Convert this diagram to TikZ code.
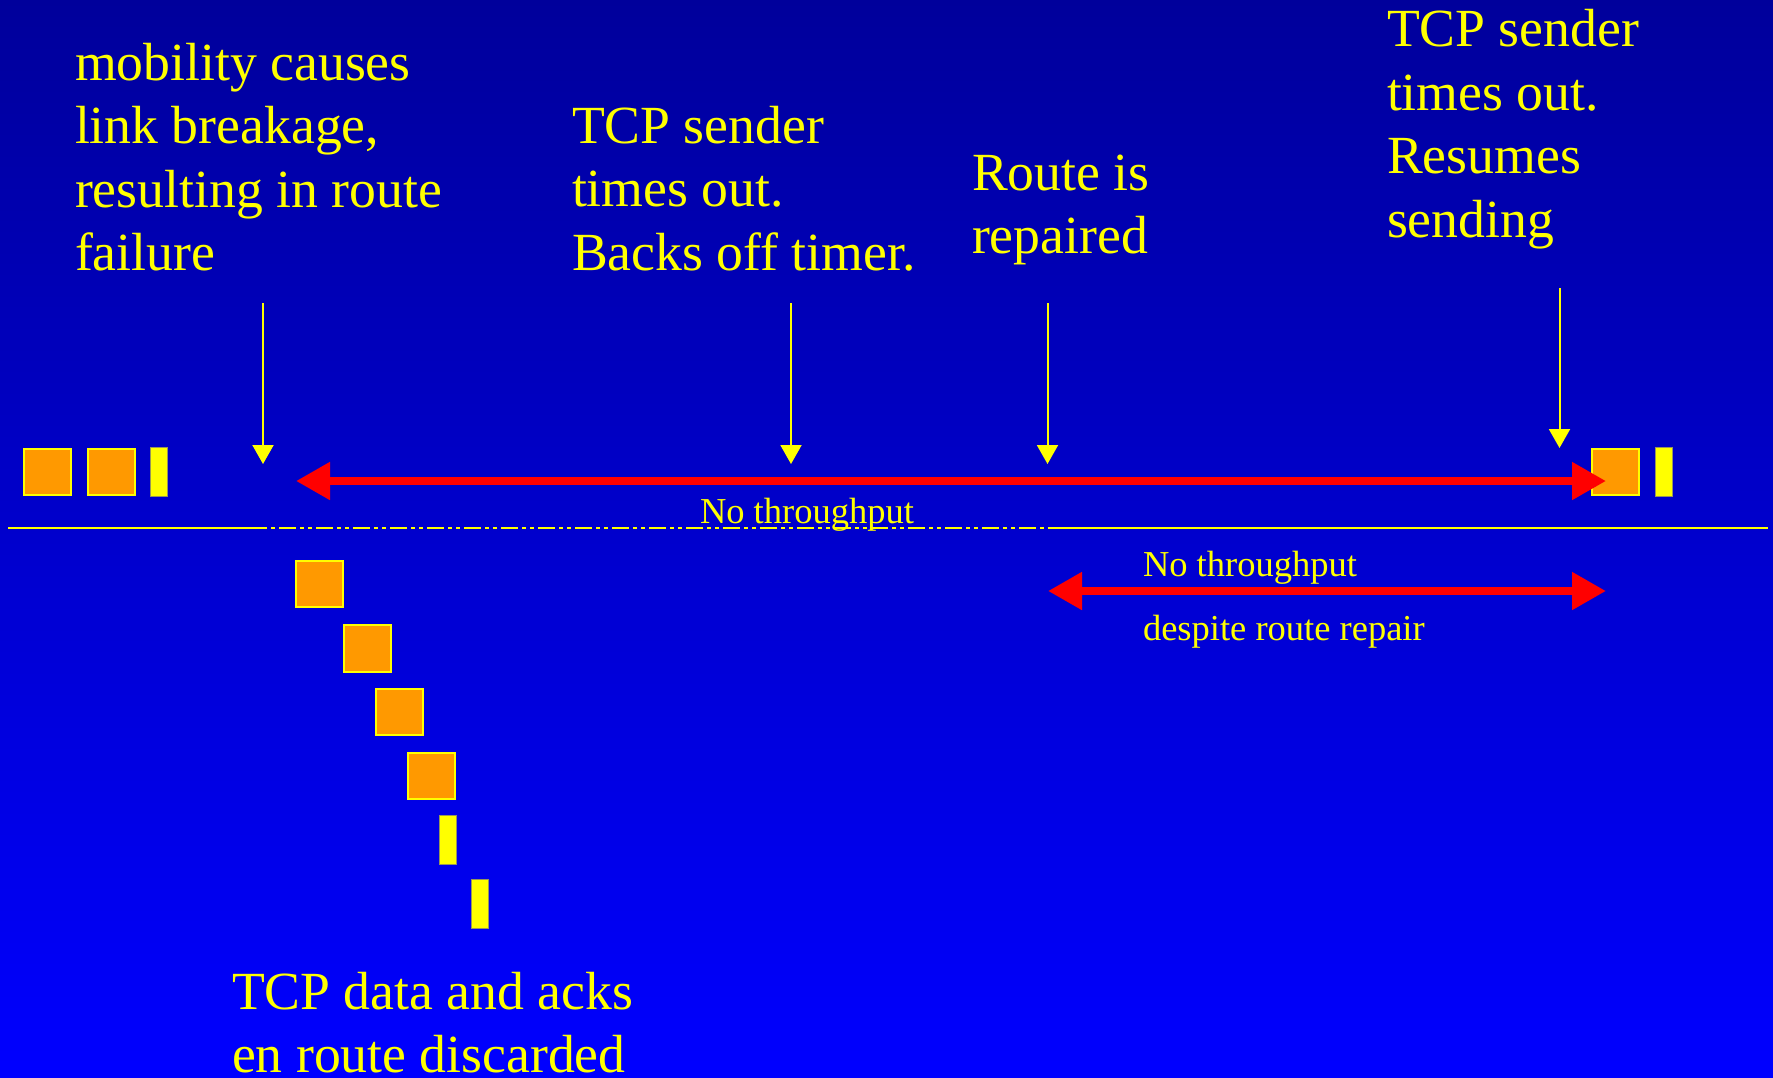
\documentclass[tikz,border=0pt]{standalone}
\usepackage{fontspec}
\setmainfont{Liberation Serif}
\usetikzlibrary{arrows.meta}
\definecolor{bgtop}{RGB}{0,0,155}
\definecolor{bgbot}{RGB}{0,0,255}
\definecolor{pkt}{RGB}{255,153,0}
\definecolor{redarr}{RGB}{255,0,0}
\definecolor{yel}{RGB}{255,255,0}
\definecolor{edge}{RGB}{150,150,90}
\begin{document}
\begin{tikzpicture}[x=1pt,y=-1pt,
  bigtxt/.style={anchor=base west, inner sep=0pt, outer sep=0pt, text=yel,
    font=\fontsize{53.7}{63.5}\selectfont, align=left, text width=600pt,
    execute at begin node={\spaceskip=0.25em\relax}},
  smalltxt/.style={anchor=base west, inner sep=0pt, outer sep=0pt, text=yel,
    font=\fontsize{36.5}{44}\selectfont},
  datapkt/.style={draw=yel, line width=2pt, fill=pkt, minimum width=47pt,
    minimum height=46.5pt, inner sep=0pt, outer sep=0pt},
  ackpkt/.style={draw=edge, line width=0.8pt, fill=yel, minimum width=17pt,
    minimum height=48.5pt, inner sep=0pt, outer sep=0pt},
  yarrow/.style={draw=yel, line width=2pt, -{Triangle[length=19pt,width=21pt]}},
  rarrow/.style={draw=redarr, line width=8pt,
    {Triangle[length=34pt,width=36pt]}-{Triangle[length=34pt,width=36pt]}},
  baseline/.style={draw=yel, line width=1.8pt},
  brokenline/.style={draw=yel, line width=1.8pt,
    dash pattern=on 4pt off 4pt on 4pt off 4pt on 17pt off 4pt}
]
% background
\useasboundingbox (0,0) rectangle (1773,1077);
\shade[top color=bgtop, bottom color=bgbot] (0,0) rectangle (1773,1077);

% texts
\node[bigtxt] (tmob) at (75,80) {mobility causes\\link breakage,\\resulting in route\\failure};
\node[bigtxt] (tto1) at (572,143.3) {TCP sender\\times out.\\Backs off timer.};
\node[bigtxt] (trep) at (972,190) {Route is\\repaired};
\node[bigtxt] (tto2) at (1387,46.7) {TCP sender\\times out.\\Resumes\\sending};
\node[bigtxt] (tdisc) at (232,1009.3) {TCP data and acks\\en route discarded};
\node[smalltxt] (nt1) at (700,523.5) {No throughput};
\node[smalltxt] (nt2) at (1143,576) {No throughput};
\node[smalltxt] (nt3) at (1143,640) {despite route repair};

% horizontal line
\coordinate (h0) at (8,528);
\coordinate (h1) at (263,528);
\coordinate (h2) at (1047.5,528);
\coordinate (h3) at (1768,528);
\draw[baseline] (h0) -- (h1);
\draw[brokenline] (h1) -- (h2);
\draw[baseline] (h2) -- (h3);

% yellow event arrows
\coordinate (ya0) at (263,303);   \coordinate (ya1) at (263,464);
\coordinate (yb0) at (791,303);   \coordinate (yb1) at (791,464);
\coordinate (yc0) at (1047.5,303);\coordinate (yc1) at (1047.5,464);
\coordinate (yd0) at (1559.5,288);\coordinate (yd1) at (1559.5,448);
\draw[yarrow] (ya0) -- (ya1);
\draw[yarrow] (yb0) -- (yb1);
\draw[yarrow] (yc0) -- (yc1);
\draw[yarrow] (yd0) -- (yd1);

% packets, top row
\node[datapkt] (p1) at (47,472) {};
\node[datapkt] (p2) at (111.5,472) {};
\node[ackpkt] (a1) at (159,472) {};
\node[datapkt] (p3) at (1615.5,472) {};
\node[ackpkt] (a2) at (1663.5,472) {};

% discarded packets
\node[datapkt] (d1) at (319.5,584) {};
\node[datapkt] (d2) at (367.8,648.3) {};
\node[datapkt] (d3) at (399.5,712) {};
\node[datapkt] (d4) at (431.5,776) {};
\node[ackpkt] (d5) at (447.5,840) {};
\node[ackpkt] (d6) at (479.5,904) {};

% red no-throughput arrows
\coordinate (r1a) at (296,481);
\coordinate (r1b) at (1606,481);
\coordinate (r2a) at (1048,591);
\coordinate (r2b) at (1606,591);
\draw[rarrow] (r1a) -- (r1b);
\draw[rarrow] (r2a) -- (r2b);
\end{tikzpicture}
\end{document}
